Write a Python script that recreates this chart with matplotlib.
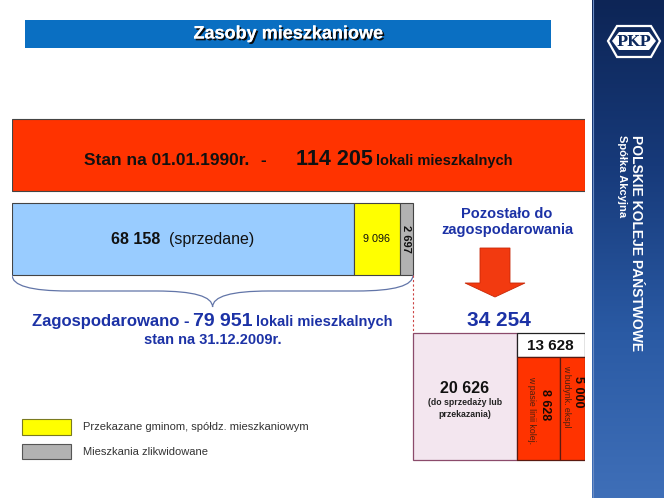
import numpy as np
import matplotlib
matplotlib.use('Agg')
import matplotlib.pyplot as plt
from matplotlib.patches import Polygon, Rectangle, PathPatch, Patch
from matplotlib.path import Path
from matplotlib.colors import LinearSegmentedColormap
import matplotlib.patheffects as pe

plt.rcParams['font.family'] = ['Liberation Sans', 'DejaVu Sans']

# --- data (lokale mieszkalne) ---
total_1990 = 114205
used_values = [68158, 9096, 2697]          # sprzedane, przekazane, zlikwidowane
used_labels = ['68 158', '9 096', '2 697']
left_values = [20626, 8628, 5000]          # do sprzedazy, w pasie linii, w budynkach
left_labels = ['20 626', '8 628', '5 000']
legend_labels = ['Przekazane gminom, spółdz. mieszkaniowym', 'Mieszkania zlikwidowane']

used_total = sum(used_values)              # 79 951
left_total = total_1990 - used_total       # 34 254
rail_total = left_values[1] + left_values[2]   # 13 628


def fmt(v):
    return '{:,}'.format(v).replace(',', ' ')


W, H = 664, 498
fig = plt.figure(figsize=(W / 100, H / 100), dpi=100)
fig.patch.set_facecolor('white')

# decoration layer in pixel coordinates
deco = fig.add_axes([0, 0, 1, 1])
deco.axis('off')

# title bar
deco.add_patch(Rectangle((25, 20), 526, 28, facecolor='#0a6fc2', edgecolor='none'))
deco.text(288, 34, 'Zasoby mieszkaniowe', color='white', fontsize=13, fontweight='bold',
          ha='center', va='center',
          path_effects=[pe.withSimplePatchShadow(offset=(1.3, -1.3), shadow_rgbFace='#0a0a0a', alpha=1),
                        pe.Normal()])

# side band
cmap = LinearSegmentedColormap.from_list('band', ['#0d2556', '#173a7a', '#2a5aa4', '#3f6fb8'])
grad = np.linspace(0, 1, 256).reshape(-1, 1)
deco.imshow(grad, cmap=cmap, extent=(592, W, H, 0), aspect='auto', zorder=0)
deco.plot([592.5, 592.5], [0, H], color='#6a8cc4', lw=0.8)
deco.set_xlim(0, W)
deco.set_ylim(H, 0)

# PKP logo
deco.add_patch(Polygon([(608, 41), (617, 26), (651, 26), (660, 41), (651, 57), (617, 57)],
                       closed=True, facecolor='none', edgecolor='white', lw=1.6))
deco.add_patch(Polygon([(612, 41), (619, 32), (649, 32), (656, 41), (649, 50), (619, 50)],
                       closed=True, facecolor='white', edgecolor='none'))
deco.text(634, 41.5, 'PKP', family='DejaVu Serif', fontsize=10.5, fontweight='bold',
          color='#0e2a5e', ha='center', va='center')
deco.text(636, 135, 'POLSKIE KOLEJE PAŃSTWOWE', rotation=270, color='white', fontsize=10,
          fontweight='bold', ha='center', va='top')
deco.text(622, 135, 'Spółka Akcyjna', rotation=270, color='white', fontsize=8,
          fontweight='bold', ha='center', va='top')

# arrow
deco.add_patch(Polygon([(480, 248), (510, 248), (510, 283), (525, 283), (495, 297),
                        (465, 283), (480, 283)], closed=True,
                       facecolor='#f23a10', edgecolor='#c82808', lw=0.6))

# main axes: x in number of dwellings, y in pixels
ax = fig.add_axes([12 / W, 0, 573 / W, 1])
ax.set_xlim(0, total_1990)
ax.set_ylim(H, 0)
ax.axis('off')
ax.patch.set_alpha(0)
per_px = total_1990 / 573.0

# 1990 stock
ax.barh(155, total_1990, left=0, height=72, color='#ff3300', edgecolor='#444444', lw=0.8)

# used stock
used_colors = ['#99ccff', '#ffff00', '#b2b2b2']
lefts = np.concatenate([[0], np.cumsum(used_values)[:-1]])
ax.barh([239] * 3, used_values, left=lefts, height=72, color=used_colors,
        edgecolor='#444444', lw=0.8)
ax.text(lefts[1] + used_values[1] / 2, 239, used_labels[1], fontsize=7.8,
        ha='center', va='center', color='#111111')
ax.text(lefts[2] + used_values[2] / 2, 239, used_labels[2], fontsize=8, fontweight='bold',
        ha='center', va='center', rotation=270, color='#111111')

# remaining stock
r0 = used_total
ax.barh(396.5, left_values[0], left=r0, height=127, color='#f3e6ef', edgecolor='#8b4b6b', lw=0.9)
ax.barh(345, rail_total, left=r0 + left_values[0], height=24, color='white',
        edgecolor='#222222', lw=0.9)
rl = [r0 + left_values[0], r0 + left_values[0] + left_values[1]]
ax.barh([408.5, 408.5], left_values[1:], left=rl, height=103, color='#ff3300',
        edgecolor='#5a1a10', lw=0.9)
ax.text(rl[0] + rail_total / 2, 345.5, fmt(rail_total), fontsize=11, fontweight='bold',
        ha='center', va='center', color='#111111')
cx0 = r0 + left_values[0] / 2
ax.text(cx0, 388, left_labels[0], fontsize=11.5, fontweight='bold', ha='center', va='center',
        color='#111111')
ax.text(cx0, 408.5, '(do sprzedaży lub\nprzekazania)', fontsize=6.3, fontweight='bold',
        ha='center', va='center', color='#222222', linespacing=1.4)
sub_txt = ['w pasie linii kolej.', 'w budynk. ekspl']
sub_y = [410, 396]
num_y = [405, 392]
offs = [7, 5.5]
for i in range(2):
    c = rl[i] + left_values[i + 1] / 2
    ax.text(c - offs[i] * per_px, sub_y[i], sub_txt[i], fontsize=6.3, rotation=270,
            ha='center', va='center', color='#4a2010')
    ax.text(c + offs[i] * per_px, num_y[i], left_labels[i + 1], fontsize=9, fontweight='bold',
            rotation=270, ha='center', va='center', color='#1a0a05')

# dashed link
ax.plot([used_total, used_total], [275, 333], ls=(0, (2, 2)), color='#cc4444', lw=0.8)

# brace under the used stock
y0, h = 275, 32
q = used_total * 0.14
m = used_total / 2
verts = [(0, y0), (0, y0 + h / 2), (q, y0 + h / 2),
         (m - q, y0 + h / 2),
         (m, y0 + h / 2), (m, y0 + h),
         (m, y0 + h / 2), (m + q, y0 + h / 2),
         (used_total - q, y0 + h / 2),
         (used_total, y0 + h / 2), (used_total, y0)]
codes = [Path.MOVETO, Path.CURVE3, Path.CURVE3, Path.LINETO, Path.CURVE3, Path.CURVE3,
         Path.CURVE3, Path.CURVE3, Path.LINETO, Path.CURVE3, Path.CURVE3]
ax.add_patch(PathPatch(Path(verts, codes), facecolor='none', edgecolor='#6275a8', lw=0.9))

# texts made of pieces with different sizes
renderer = fig.canvas.get_renderer()


def run_text(xc, y, pieces, color):
    arts, widths = [], []
    for s, size, weight, gap in pieces:
        t = ax.text(0, y, s, fontsize=size, fontweight=weight, color=color,
                    ha='left', va='baseline')
        arts.append(t)
        widths.append(t.get_window_extent(renderer).width + gap)
    px = ax.transData.transform((xc, y))[0] - (sum(widths) - pieces[-1][3]) / 2
    for t, w in zip(arts, widths):
        t.set_x(ax.transData.inverted().transform((px, 0))[0])
        px += w


blue = '#1c32a6'
run_text(total_1990 / 2, 165, [('Stan na 01.01.1990r.', 12.5, 'bold', 11),
                               ('-', 12.5, 'bold', 30),
                               (fmt(total_1990), 15.5, 'bold', 3),
                               ('lokali mieszkalnych', 10.5, 'bold', 0)], '#111111')
run_text(used_values[0] / 2, 244, [(used_labels[0], 11.5, 'bold', 9),
                                   ('(sprzedane)', 11.5, 'normal', 0)], '#111111')
run_text(used_total / 2, 326, [('Zagospodarowano -', 12, 'bold', 3),
                               (fmt(used_total), 14, 'bold', 4),
                               ('lokali mieszkalnych', 10.5, 'bold', 0)], blue)
ax.text(used_total / 2, 344, 'stan na 31.12.2009r.', fontsize=10.5, fontweight='bold',
        color=blue, ha='center', va='baseline')

deco.text(507, 222, 'Pozostało do\nzagospodarowania', fontsize=10.5, fontweight='bold',
          color=blue, ha='center', va='center', linespacing=1.25)
ax.text(r0 + left_total / 2, 320, fmt(left_total), fontsize=15, fontweight='bold',
        color=blue, ha='center', va='center')

# legend
handles = [Patch(facecolor=used_colors[1], edgecolor='#7a7a20', lw=0.8),
           Patch(facecolor=used_colors[2], edgecolor='#555555', lw=0.8)]
fig.legend(handles, legend_labels, loc='upper left', bbox_to_anchor=(22 / W, 1 - 419 / H),
           frameon=False, fontsize=8, handlelength=4.4, handleheight=1.8,
           handletextpad=1.1, labelspacing=0.8, borderpad=0, borderaxespad=0,
           labelcolor='#333333')

fig.savefig('out.png', dpi=100)
